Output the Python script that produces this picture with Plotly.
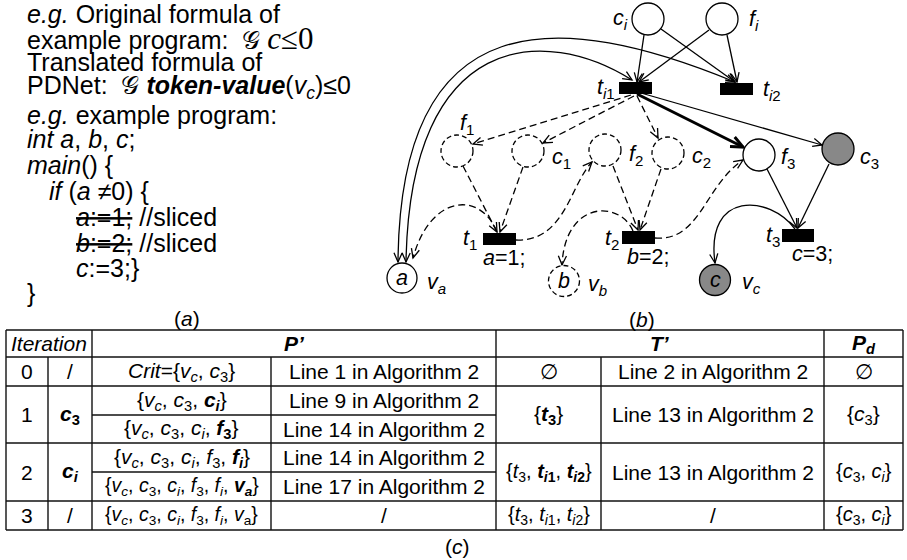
import math
import plotly.graph_objects as go

FONT = "Liberation Sans, Arial, Helvetica, sans-serif"
G_SYM = "𝒢"

# ---------------- text content ----------------
code_lines = [
    "<i>e.g.</i> Original formula of",
    "example program:  " + G_SYM + " <span style=\"font-family:Liberation Serif;font-size:31px\"><i>c</i>≤0</span>",
    "Translated formula of",
    "PDNet:  " + G_SYM + " <b><i>token-value</i></b>(<i>v<sub>c</sub></i>)≤0",
    "<i>e.g.</i> example program:",
    "<i>int a</i>, <i>b</i>, <i>c</i>;",
    "<i>main</i>() {",
    "<i>if</i> (<i>a</i> ≠0) {",
    "<s><i>a</i>:=1;</s> //sliced",
    "<s><i>b</i>:=2;</s> //sliced",
    "<i>c</i>:=3;}",
    "}",
]
code_indent = [0, 0, 0, 0, 0, 0, 0, 1, 2, 2, 2, 0]
captions = ["(<i>a</i>)", "(<i>b</i>)", "(<i>c</i>)"]

place_ids = ["ci", "fi", "f1", "c1", "f2", "c2", "f3", "c3", "va", "vb", "vc"]
place_labels = ["<i>c<sub>i</sub></i>", "<i>f<sub>i</sub></i>", "<i>f</i><sub>1</sub>",
                "<i>c</i><sub>1</sub>", "<i>f</i><sub>2</sub>", "<i>c</i><sub>2</sub>",
                "<i>f</i><sub>3</sub>", "<i>c</i><sub>3</sub>", "<i>v<sub>a</sub></i>",
                "<i>v<sub>b</sub></i>", "<i>v<sub>c</sub></i>"]
place_tokens = ["", "", "", "", "", "", "", "", "<i>a</i>", "<i>b</i>", "<i>c</i>"]
place_sliced = [False, False, True, True, True, True, False, False, False, True, False]
place_critical = [False, False, False, False, False, False, False, True, False, False, True]

trans_ids = ["ti1", "ti2", "t1", "t2", "t3"]
trans_labels = ["<i>t</i><sub><i>i</i>1</sub>", "<i>t</i><sub><i>i</i>2</sub>",
                "<i>t</i><sub>1</sub>", "<i>t</i><sub>2</sub>", "<i>t</i><sub>3</sub>"]
trans_code = ["", "", "<i>a</i>=1;", "<i>b</i>=2;", "<i>c</i>=3;"]

# straight arcs: (source, target, kind)
arcs = [("ci", "ti1", "kept"), ("fi", "ti1", "kept"), ("ci", "ti2", "kept"),
        ("fi", "ti2", "kept"), ("ti1", "f1", "sliced"), ("ti1", "c1", "sliced"),
        ("ti1", "c2", "sliced"), ("ti1", "f3", "bold"), ("ti1", "c3", "kept"),
        ("f1", "t1", "sliced"), ("c1", "t1", "sliced"), ("f2", "t2", "sliced"),
        ("c2", "t2", "sliced"), ("f3", "t3", "kept"), ("c3", "t3", "kept")]
# curved arcs: (source, target, kind, both_ends)
curved_arcs = [("va", "ti2", "kept", True), ("va", "ti1", "kept", True),
               ("t1", "va", "sliced", False), ("t1", "f2", "sliced", False),
               ("t2", "vb", "sliced", False), ("t2", "f3", "sliced", False),
               ("t3", "vc", "kept", False)]

table_header = ["<i>Iteration</i>", "<b><i>P’</i></b>", "<b><i>T’</i></b>", "<b><i>P<sub>d</sub></i></b>"]
iter_ids = ["0", "1", "2", "3"]
iter_places = ["/", "<b><i>c</i><sub>3</sub></b>", "<b><i>c<sub>i</sub></i></b>", "/"]
VC = "<i>v<sub>c</sub></i>"
C3 = "<i>c</i><sub>3</sub>"
CI = "<i>c<sub>i</sub></i>"
F3 = "<i>f</i><sub>3</sub>"
FI = "<i>f<sub>i</sub></i>"
p_sets = ["<i>Crit</i>={" + VC + ", " + C3 + "}",
          "{" + VC + ", " + C3 + ", <b>" + CI + "</b>}",
          "{" + VC + ", " + C3 + ", " + CI + ", <b>" + F3 + "</b>}",
          "{" + VC + ", " + C3 + ", " + CI + ", " + F3 + ", <b>" + FI + "</b>}",
          "{" + VC + ", " + C3 + ", " + CI + ", " + F3 + ", " + FI + ", <b><i>v<sub>a</sub></i></b>}",
          "{" + VC + ", " + C3 + ", " + CI + ", " + F3 + ", " + FI + ", <i>v</i><sub>a</sub>}"]
p_reasons = ["Line 1 in Algorithm 2", "Line 9 in Algorithm 2", "Line 14 in Algorithm 2",
             "Line 14 in Algorithm 2", "Line 17 in Algorithm 2", "/"]
t_sets = ["∅", "{<b><i>t</i><sub>3</sub></b>}",
          "{<i>t</i><sub>3</sub>, <b><i>t</i><sub><i>i</i>1</sub></b>, <b><i>t</i><sub><i>i</i>2</sub></b>}",
          "{<i>t</i><sub>3</sub>, <i>t</i><sub><i>i</i>1</sub>, <i>t</i><sub><i>i</i>2</sub>}"]
t_reasons = ["Line 2 in Algorithm 2", "Line 13 in Algorithm 2", "Line 13 in Algorithm 2", "/"]
pd_sets = ["∅", "{" + C3 + "}", "{" + C3 + ", " + CI + "}", "{" + C3 + ", " + CI + "}"]
# which p_sets rows belong to each iteration
iter_subrows = [[0], [1, 2], [3, 4], [5]]

# ---------------- layout geometry (pixels) ----------------
W, H = 907, 560
place_pos = {"ci": (648, 19, 16), "fi": (722, 19, 16), "f1": (457, 151, 16),
             "c1": (528, 151, 16), "f2": (605, 150, 16), "c2": (668, 153, 16),
             "f3": (759, 155, 16), "c3": (838, 149, 16), "va": (402, 278, 15),
             "vb": (564, 281, 15.5), "vc": (715, 280, 15.5)}
place_label_pos = {"ci": (620, 19), "fi": (754, 20), "f1": (467, 124), "c1": (561, 158),
                   "f2": (636, 155), "c2": (701, 157), "f3": (788, 158), "c3": (869, 158),
                   "va": (436, 283), "vb": (597, 285), "vc": (751, 283)}
trans_pos = {"ti1": (619, 82, 652, 94), "ti2": (720, 83, 753, 95), "t1": (483, 233, 516, 245),
             "t2": (622, 231, 655, 244), "t3": (782, 229, 814, 242)}
trans_label_pos = {"ti1": (606, 88), "ti2": (772, 90), "t1": (470, 239), "t2": (612, 239),
                   "t3": (773, 236)}
trans_code_pos = {"t1": (504, 258), "t2": (648, 257), "t3": (812, 254)}
arc_points = {("ci", "ti1"): ((644, 35), (637, 82)), ("fi", "ti1"): ((709, 30), (639, 82)),
              ("ci", "ti2"): ((661, 29), (735, 82)), ("fi", "ti2"): ((727, 35), (737, 82)),
              ("ti1", "f1"): ((631, 95), (473, 144)), ("ti1", "c1"): ((634, 96), (543, 143)),
              ("ti1", "c2"): ((637, 96), (658, 138)), ("ti1", "f3"): ((637, 94), (743, 147)),
              ("ti1", "c3"): ((641, 93), (822, 145)), ("f1", "t1"): ((463, 166), (497, 232)),
              ("c1", "t1"): ((523, 167), (500, 232)), ("f2", "t2"): ((613, 166), (638, 230)),
              ("c2", "t2"): ((661, 169), (640, 230)), ("f3", "t3"): ((767, 169), (797, 228)),
              ("c3", "t3"): ((829, 164), (798, 228))}
curve_points = {("va", "ti2"): [(398, 262), (400, 0), (560, 10), (735, 82)],
                ("va", "ti1"): [(406, 262), (410, 30), (545, 25), (632, 80)],
                ("t1", "va"): [(497, 232), (480, 190), (430, 195), (413, 258)],
                ("t1", "f2"): [(516, 240), (565, 242), (570, 185), (592, 162)],
                ("t2", "vb"): [(633, 231), (620, 200), (565, 200), (562, 265)],
                ("t2", "f3"): [(655, 238), (700, 242), (705, 185), (743, 160)],
                ("t3", "vc"): [(795, 229), (770, 195), (705, 190), (715, 263)]}
code_x = [25, 47, 74]
code_y = [14, 38, 62, 87, 115, 139, 165, 191, 217, 243, 268, 293]
caption_pos = [(187, 318), (642, 319), (457, 546)]
cols = [6, 48, 92, 271, 496, 601, 824, 903]
rows = [330, 357, 386, 415, 443, 472, 501, 530]

shapes, annotations = [], []
LW = 1.3
DASH = "7px,4px"


def fmt(p):
    return f"{p[0]:.2f},{p[1]:.2f}"


def vhead(tip, d, L=10.0, ang=24.0, width=LW):
    n = math.hypot(d[0], d[1])
    bx, by = -d[0] / n, -d[1] / n
    a = math.radians(ang)
    ca, sa = math.cos(a), math.sin(a)
    p1 = (tip[0] + L * (bx * ca - by * sa), tip[1] + L * (bx * sa + by * ca))
    p2 = (tip[0] + L * (bx * ca + by * sa), tip[1] + L * (-bx * sa + by * ca))
    shapes.append(dict(type="path", xref="x", yref="y",
                       path=f"M{fmt(p1)} L{fmt(tip)} L{fmt(p2)}",
                       line=dict(color="black", width=width)))


def text(x, y, s, size=21, xanchor="center", family=FONT):
    annotations.append(dict(x=x, y=y, xref="x", yref="y", text=s, showarrow=False,
                            xanchor=xanchor, yanchor="middle",
                            font=dict(family=family, size=size, color="black")))


# left text block
for s, ind, y in zip(code_lines, code_indent, code_y):
    text(code_x[ind], y, s, size=25, xanchor="left")

for s, p in zip(captions, caption_pos):
    text(p[0], p[1], s, size=21)

# straight arcs
for src, dst, kind in arcs:
    p0, p1 = arc_points[(src, dst)]
    w = 3.0 if kind == "bold" else LW
    shapes.append(dict(type="path", xref="x", yref="y", path=f"M{fmt(p0)} L{fmt(p1)}",
                       line=dict(color="black", width=w,
                                 dash=DASH if kind == "sliced" else "solid")))
    vhead(p1, (p1[0] - p0[0], p1[1] - p0[1]), L=13 if kind == "bold" else 10, width=w)

# curved arcs
for src, dst, kind, both in curved_arcs:
    P = curve_points[(src, dst)]
    shapes.append(dict(type="path", xref="x", yref="y",
                       path=f"M{fmt(P[0])} C{fmt(P[1])} {fmt(P[2])} {fmt(P[3])}",
                       line=dict(color="black", width=LW,
                                 dash=DASH if kind == "sliced" else "solid")))
    vhead(P[3], (P[3][0] - P[2][0], P[3][1] - P[2][1]))
    if both:
        vhead(P[0], (P[0][0] - P[1][0], P[0][1] - P[1][1]))

# places
for pid, lab, tok, sl, cr in zip(place_ids, place_labels, place_tokens, place_sliced, place_critical):
    cx, cy, r = place_pos[pid]
    shapes.append(dict(type="circle", xref="x", yref="y", x0=cx - r, x1=cx + r, y0=cy - r, y1=cy + r,
                       fillcolor="#888888" if cr else "white",
                       line=dict(color="black", width=LW, dash="5px,3px" if sl else "solid")))
    lx, ly = place_label_pos[pid]
    text(lx, ly, lab, size=21.5)
    if tok:
        text(cx, cy, tok, size=21.5)

# transitions
for tid, lab, code in zip(trans_ids, trans_labels, trans_code):
    x0, y0, x1, y1 = trans_pos[tid]
    shapes.append(dict(type="rect", xref="x", yref="y", x0=x0, x1=x1, y0=y0, y1=y1,
                       fillcolor="black", line=dict(width=0)))
    lx, ly = trans_label_pos[tid]
    text(lx, ly, lab, size=21.5)
    if code:
        cx, cy = trans_code_pos[tid]
        text(cx, cy, code, size=21.5)

# table grid
def hline(y, xa, xb):
    shapes.append(dict(type="line", xref="x", yref="y", x0=xa, x1=xb, y0=y, y1=y,
                       line=dict(color="#111111", width=1.4)))


def vline(x, ya, yb):
    shapes.append(dict(type="line", xref="x", yref="y", x0=x, x1=x, y0=ya, y1=yb,
                       line=dict(color="#111111", width=1.4)))


for y in [rows[0], rows[1], rows[2], rows[4], rows[6], rows[7]]:
    hline(y, cols[0], cols[7])
for y in [rows[3], rows[5]]:
    hline(y, cols[2], cols[4])
for x in [cols[0], cols[2], cols[4], cols[6], cols[7]]:
    vline(x, rows[0], rows[7])
for x in [cols[1], cols[3], cols[5]]:
    vline(x, rows[1], rows[7])

mid = lambda a, b: (a + b) / 2
hy = mid(rows[0], rows[1])
text(mid(cols[0], cols[2]), hy, table_header[0])
text(mid(cols[2], cols[4]), hy, table_header[1])
text(mid(cols[4], cols[6]), hy, table_header[2])
text(mid(cols[6], cols[7]), hy, table_header[3])

row_spans = [(1, 2), (2, 4), (4, 6), (6, 7)]
for k, (ra, rb) in enumerate(row_spans):
    yc = mid(rows[ra], rows[rb])
    text(mid(cols[0], cols[1]), yc, iter_ids[k])
    text(mid(cols[1], cols[2]), yc, iter_places[k])
    subs = iter_subrows[k]
    for j, idx in enumerate(subs):
        if len(subs) == 1:
            ys = yc
        else:
            ys = mid(rows[ra + j], rows[ra + j + 1])
        size = 19.5 if p_sets[idx].count(",") >= 5 else 21
        text(mid(cols[2], cols[3]), ys, p_sets[idx], size=size)
        text(mid(cols[3], cols[4]), ys, p_reasons[idx])
    text(mid(cols[4], cols[5]), yc, t_sets[k], size=20 if k >= 2 else 21)
    text(mid(cols[5], cols[6]), yc, t_reasons[k])
    text(mid(cols[6], cols[7]), yc, pd_sets[k], size=20 if k >= 2 else 21)

fig = go.Figure()
fig.update_layout(
    width=W, height=H, margin=dict(l=0, r=0, t=0, b=0),
    paper_bgcolor="white", plot_bgcolor="white",
    xaxis=dict(range=[0, W], visible=False, fixedrange=True),
    yaxis=dict(range=[H, 0], visible=False, fixedrange=True),
    shapes=shapes, annotations=annotations, showlegend=False,
)
fig.write_html("out.html", config={"displayModeBar": False},
               post_script="document.body.style.margin='0';document.body.style.overflow='hidden';")
